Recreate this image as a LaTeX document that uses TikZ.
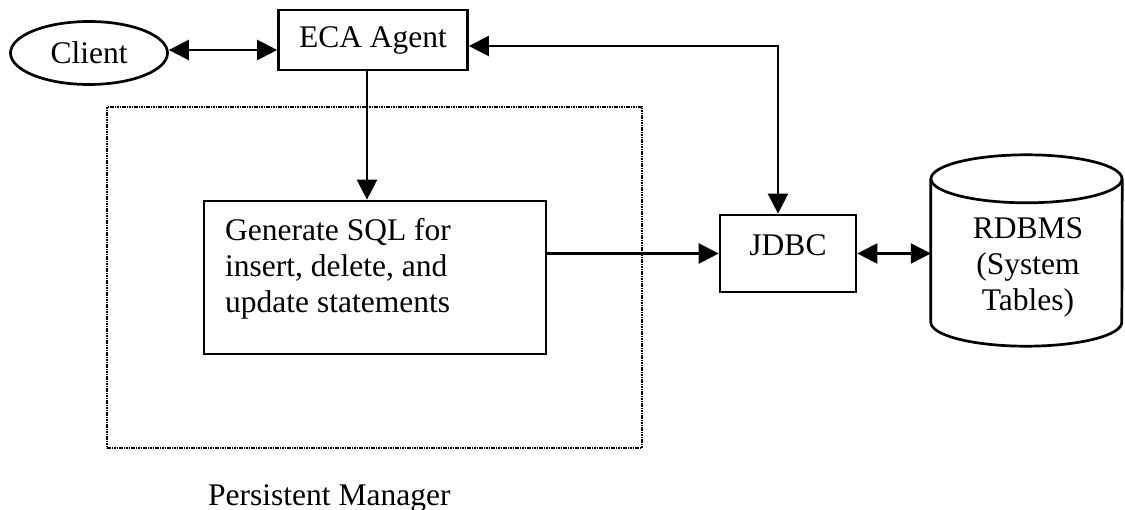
\documentclass[tikz,border=0pt]{standalone}
\usepackage{fontspec}
\setmainfont{Liberation Serif}
\usetikzlibrary{arrows.meta,shapes.geometric}

\tikzset{
  every node/.style={font=\fontsize{31.5}{36}\selectfont},
  boxnode/.style={draw, line width=2.7pt, inner sep=0pt},
  ovalnode/.style={draw, ellipse, line width=2.7pt, inner sep=0pt},
  tip/.tip={Triangle[length=20pt,width=20pt]},
  conn/.style={line width=2.4pt, -tip},
  biconn/.style={line width=2.4pt, tip-tip},
  groupbox/.style={draw, line width=2.8pt, dash pattern=on 1.6pt off 0.8pt, inner sep=0pt},
  dbline/.style={line width=2.7pt}
}

\begin{document}
\begin{tikzpicture}[x=1pt, y=-1pt]
  \useasboundingbox (0,0) rectangle (1125,510);

  % Persistent manager group
  \node[groupbox, minimum width=535pt, minimum height=341pt] (pm) at (374.5,277.5) {};
  \node[anchor=base west, inner sep=0pt] (pmlabel) at (208,505) {Persistent Manager};

  % Client and agent
  \node[ovalnode, minimum width=157pt, minimum height=63pt] (client) at (89,53) {Client};
  \node[boxnode, minimum width=189pt, minimum height=60pt] (eca) at (373,40) {ECA Agent};

  % SQL generator
  \node[boxnode, minimum width=342pt, minimum height=153pt] (gen) at (375,277.5) {};
  \node[anchor=base west, inner sep=0pt, align=left] (gentext) at (225,313)
    {Generate SQL for\\insert, delete, and\\update statements};

  % JDBC layer
  \node[boxnode, minimum width=136pt, minimum height=77pt,
        text height=21pt, text depth=17pt] (jdbc) at (788,253.5) {JDBC};

  % Database cylinder
  \node[inner sep=0pt, minimum width=191pt, minimum height=143pt] (db) at (1026.5,250.5) {};
  \draw[dbline] (db.north west) -- (db.south west)
    arc[start angle=180, end angle=360, x radius=95.5pt, y radius=24pt]
    -- (db.north east);
  \draw[dbline] (db.north) ellipse [x radius=95.5pt, y radius=24pt];
  \node[anchor=base, inner sep=0pt, align=center] (dbtext) at (1028,311)
    {RDBMS\\(System\\Tables)};

  % Connectors
  \draw[biconn] ([yshift=3pt]client.east) -- (eca.west |- 0,50);
  \draw[conn] ([xshift=-6pt]eca.south) -- ([xshift=-6pt]eca.south |- gen.north);
  \draw[biconn] ([yshift=-6pt]eca.east) -| ([xshift=-10pt]jdbc.north);
  \draw[conn] (gen.east |- jdbc.west) -- (jdbc.west);
  \draw[biconn] (jdbc.east) -- (db.west |- jdbc.east);
\end{tikzpicture}
\end{document}
